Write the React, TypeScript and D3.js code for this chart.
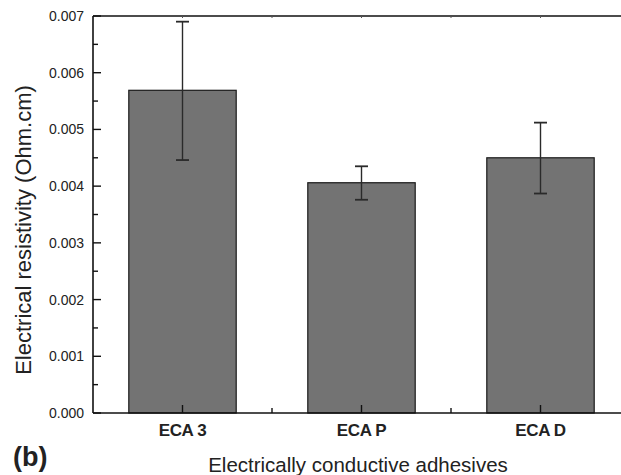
import { useEffect, useRef } from "react";
import * as d3 from "d3";

const categories = ["ECA 3", "ECA P", "ECA D"];
const resistivity = [0.00569, 0.00406, 0.0045];
const errLow = [0.00446, 0.00376, 0.00387];
const errHigh = [0.0069, 0.00435, 0.00512];
const yTicks = [0, 0.001, 0.002, 0.003, 0.004, 0.005, 0.006, 0.007];

function App() {
  const ref = useRef<SVGSVGElement>(null);

  useEffect(() => {
    const W = 621;
    const H = 475;
    const left = 93;
    const top = 16;
    const bottom = 413;
    const svg = d3.select(ref.current);
    svg.selectAll("*").remove();
    const font = "Liberation Sans, Arial, sans-serif";

    const x = d3.scaleBand().domain(categories).range([left, 630]).paddingInner(0.4).paddingOuter(0.2);
    const step = x.step();
    const y = d3.scaleLinear().domain([0, 0.007]).range([bottom, top]);

    // bars
    svg.append("g")
      .selectAll("rect")
      .data(categories)
      .join("rect")
      .attr("x", (d) => x(d)!)
      .attr("y", (d, i) => y(resistivity[i]))
      .attr("width", x.bandwidth())
      .attr("height", (d, i) => bottom - y(resistivity[i]))
      .attr("fill", "#737373")
      .attr("stroke", "#1a1a1a")
      .attr("stroke-width", 1.2);

    // error bars
    const eg = svg.append("g").attr("stroke", "#2a2a2a").attr("stroke-width", 1.4);
    categories.forEach((c, i) => {
      const cx = x(c)! + x.bandwidth() / 2;
      eg.append("line").attr("x1", cx).attr("x2", cx).attr("y1", y(errLow[i])).attr("y2", y(errHigh[i]));
      [errLow[i], errHigh[i]].forEach((v) => {
        eg.append("line").attr("x1", cx - 6.5).attr("x2", cx + 6.5).attr("y1", y(v)).attr("y2", y(v)).attr("stroke-width", 1.8);
      });
    });

    // frame
    svg.append("line").attr("x1", left).attr("x2", W).attr("y1", bottom).attr("y2", bottom).attr("stroke", "#111").attr("stroke-width", 1.6);
    svg.append("line").attr("x1", left).attr("x2", W).attr("y1", top).attr("y2", top).attr("stroke", "#111").attr("stroke-width", 1.6);
    svg.append("line").attr("x1", left).attr("x2", left).attr("y1", top).attr("y2", bottom).attr("stroke", "#111").attr("stroke-width", 1.6);

    // y ticks
    const yg = svg.append("g");
    yTicks.forEach((t, i) => {
      yg.append("line").attr("x1", left).attr("x2", left + 8).attr("y1", y(t)).attr("y2", y(t)).attr("stroke", "#111").attr("stroke-width", 1.4);
      if (i < yTicks.length - 1) {
        const m = y(t + 0.0005);
        yg.append("line").attr("x1", left).attr("x2", left + 5).attr("y1", m).attr("y2", m).attr("stroke", "#111").attr("stroke-width", 1.4);
      }
      yg.append("text").attr("x", 84).attr("y", y(t) + 5).attr("text-anchor", "end")
        .attr("font-family", font).attr("font-size", 14).attr("fill", "#222").text(d3.format(".3f")(t));
    });

    // x ticks, bottom and top
    const xg = svg.append("g");
    categories.forEach((c) => {
      const cx = x(c)! + x.bandwidth() / 2;
      xg.append("line").attr("x1", cx).attr("x2", cx).attr("y1", bottom).attr("y2", bottom - 8).attr("stroke", "#111").attr("stroke-width", 1.4);
      xg.append("line").attr("x1", cx).attr("x2", cx).attr("y1", top).attr("y2", top + 2).attr("stroke", "#555").attr("stroke-width", 1);
      const mx = cx + step / 2;
      xg.append("line").attr("x1", mx).attr("x2", mx).attr("y1", bottom).attr("y2", bottom - 5).attr("stroke", "#111").attr("stroke-width", 1.4);
      xg.append("line").attr("x1", mx).attr("x2", mx).attr("y1", top).attr("y2", top + 2).attr("stroke", "#555").attr("stroke-width", 1);
      xg.append("text").attr("x", cx).attr("y", 436).attr("text-anchor", "middle")
        .attr("font-family", font).attr("font-size", 17).attr("font-weight", "bold")
        .attr("letter-spacing", -0.4).attr("fill", "#222").text(c);
    });

    // titles
    svg.append("text").attr("transform", `translate(31, 230) rotate(-90)`)
      .attr("text-anchor", "middle").attr("font-family", font).attr("font-size", 22).attr("fill", "#222")
      .text("Electrical resistivity (Ohm.cm)");
    svg.append("text").attr("x", 358).attr("y", 472).attr("text-anchor", "middle")
      .attr("font-family", font).attr("font-size", 20.5).attr("fill", "#222").text("Electrically conductive adhesives");
    svg.append("text").attr("x", 13).attr("y", 466).attr("font-family", font).attr("font-size", 27)
      .attr("font-weight", "bold").attr("fill", "#222").text("(b)");

    svg.attr("width", W).attr("height", H);
  }, []);

  return <svg ref={ref} width={621} height={475} style={{ position: "absolute", left: 0, top: 0, background: "#fff" }} />;
}

export default App;
